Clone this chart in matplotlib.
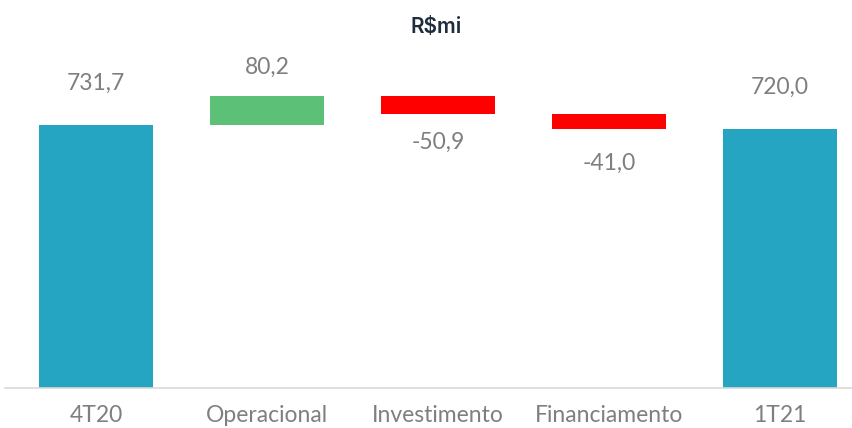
import numpy as np
import matplotlib
matplotlib.use("Agg")
import matplotlib.pyplot as plt

#---------------------------------------------------
#---------------------- data -----------------------
#---------------------------------------------------
categories = ["4T20", "Operacional", "Investimento", "Financiamento", "1T21"]
values = [731.7, 80.2, -50.9, -41.0, 720.0]
is_total = [True, False, False, False, True]
labels = ["731,7", "80,2", "-50,9", "-41,0", "720,0"]

BLUE = "#26A5C2"
GREEN = "#5CC177"
RED = "#FF0000"
GRAY_TXT = "#7F7F7F"

# waterfall bottoms
bottoms = []
heights = []
running = 0.0
for v, tot in zip(values, is_total):
    if tot:
        bottoms.append(0.0)
        heights.append(v)
        running = v
    else:
        if v >= 0:
            bottoms.append(running)
        else:
            bottoms.append(running + v)
        heights.append(abs(v))
        running += v

colors = []
for v, tot in zip(values, is_total):
    if tot:
        colors.append(BLUE)
    elif v >= 0:
        colors.append(GREEN)
    else:
        colors.append(RED)

fig = plt.figure(figsize=(8.52, 4.28), dpi=100)
ax = fig.add_axes([5 / 852, 40 / 428, 847 / 852, 388 / 428])

x = np.arange(len(categories))
ax.bar(x, heights, bottom=bottoms, width=0.667, color=colors, zorder=2)

ax.set_xlim(-0.532, 4.42)
ax.set_ylim(0, 1079)

# value labels
for i, (v, tot) in enumerate(zip(values, is_total)):
    top = bottoms[i] + heights[i]
    if v >= 0:
        off = 30 if tot else 21
        ax.annotate(labels[i], (x[i], top), xytext=(0, off), textcoords="offset points",
                    ha="center", va="center", fontsize=16.5, color=GRAY_TXT, family="Lato")
    else:
        off = 20 if i == 2 else 25
        ax.annotate(labels[i], (x[i], bottoms[i]), xytext=(0, -off), textcoords="offset points",
                    ha="center", va="center", fontsize=16.5, color=GRAY_TXT, family="Lato")

for s in ["top", "right", "left"]:
    ax.spines[s].set_visible(False)
ax.spines["bottom"].set_color("#D9D9D9")
ax.spines["bottom"].set_linewidth(1.2)
ax.set_yticks([])
ax.set_xticks(x)
ax.set_xticklabels(categories, fontsize=16.5, color=GRAY_TXT, family="Lato")
ax.tick_params(axis="x", length=0, pad=12)

fig.text(436 / 852, 1 - 27 / 428, "R$mi", ha="center", va="center",
         fontsize=15, color="#1F2D3D", family="Inter", weight="semibold")

fig.savefig("out.png", dpi=100)
